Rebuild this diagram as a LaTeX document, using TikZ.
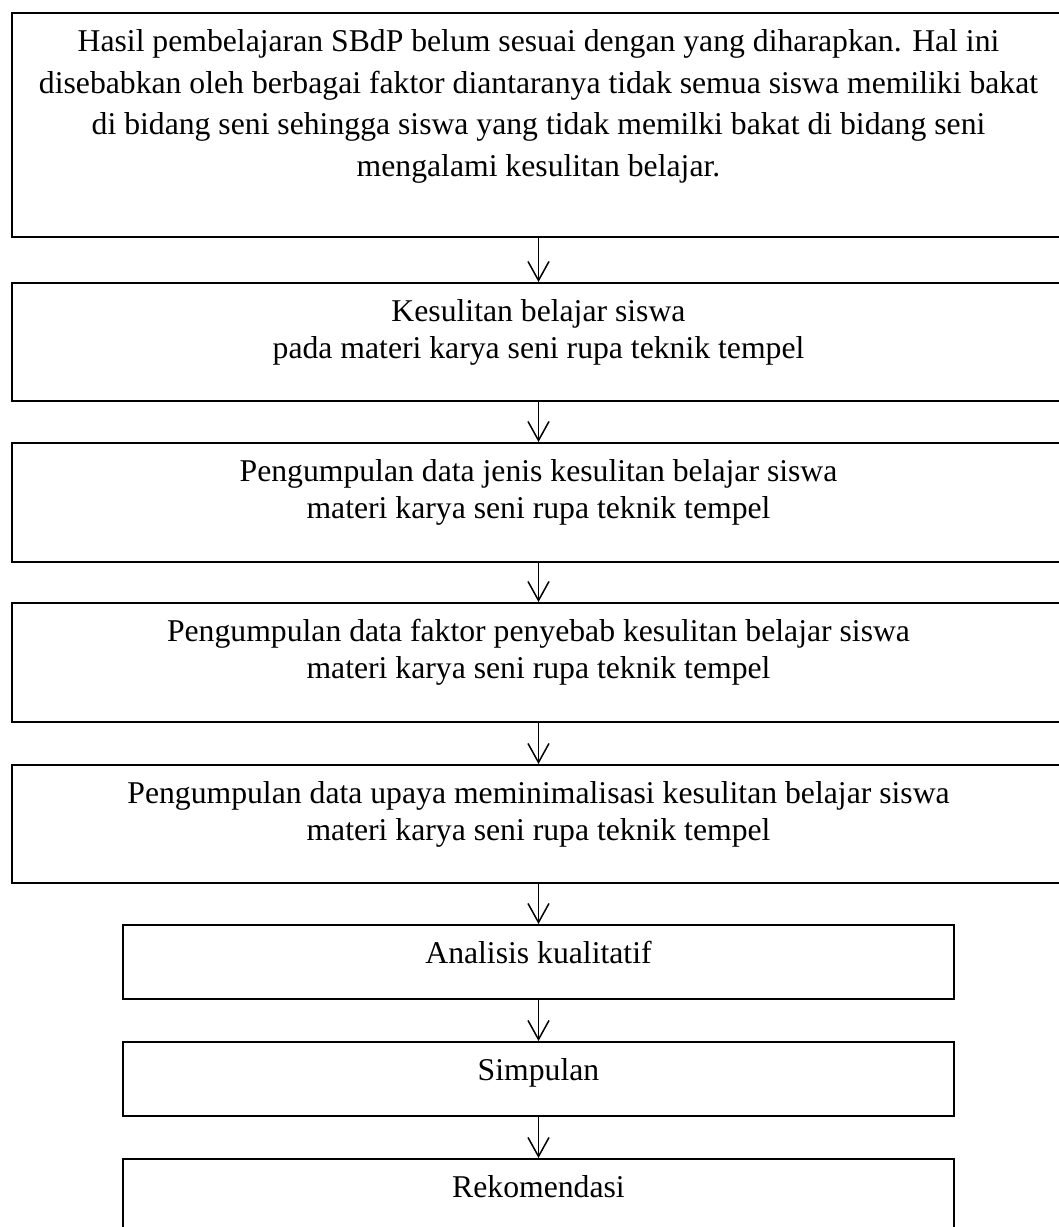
\documentclass[tikz,border=0pt]{standalone}
\usepackage{fontspec}
\setmainfont{Liberation Serif}
\usetikzlibrary{arrows.meta}
\newcommand{\firstline}{\rule{0pt}{39.5pt}}
\begin{document}
\begin{tikzpicture}[x=1pt,y=-1pt,
  box/.style={draw, line width=2pt, rectangle, inner sep=0pt},
  wide/.style={box, minimum width=1053pt},
  narrow/.style={box, minimum width=831pt},
  txt/.style={anchor=north, inner sep=0pt, align=center, font=\fontsize{31.7}{36.5}\selectfont},
  txtA/.style={txt, font=\fontsize{31.7}{41.5}\selectfont},
  arr/.style={line width=1.5pt, -{Straight Barb[length=19pt,width=21pt]}}]
\useasboundingbox (0,0) rectangle (1059,1227);
\clip (0,0) rectangle (1059,1227);

\node[wide, minimum height=224pt] (b1) at (538.5,125) {};
\node[wide, minimum height=118pt] (b2) at (538.5,342) {};
\node[wide, minimum height=119pt] (b3) at (538.5,502.5) {};
\node[wide, minimum height=119pt] (b4) at (538.5,662.5) {};
\node[wide, minimum height=118pt] (b5) at (538.5,824) {};
\node[narrow, minimum height=74pt] (b6) at (538.5,962) {};
\node[narrow, minimum height=74pt] (b7) at (538.5,1079) {};
\node[narrow, minimum height=76pt] (b8) at (538.5,1197) {};

\node[txtA] (t1) at (b1.north) {\firstline Hasil pembelajaran SBdP belum sesuai dengan yang diharapkan. Hal ini\\
disebabkan oleh berbagai faktor diantaranya tidak semua siswa memiliki bakat\\
di bidang seni sehingga siswa yang tidak memilki bakat di bidang seni\\
mengalami kesulitan belajar.};
\node[txt] (t2) at (b2.north) {\firstline Kesulitan belajar siswa\\pada materi karya seni rupa teknik tempel};
\node[txt] (t3) at (b3.north) {\firstline Pengumpulan data jenis kesulitan belajar siswa\\materi karya seni rupa teknik tempel};
\node[txt] (t4) at (b4.north) {\firstline Pengumpulan data faktor penyebab kesulitan belajar siswa\\materi karya seni rupa teknik tempel};
\node[txt] (t5) at (b5.north) {\firstline Pengumpulan data upaya meminimalisasi kesulitan belajar siswa\\materi karya seni rupa teknik tempel};
\node[txt] (t6) at (b6.north) {\firstline Analisis kualitatif};
\node[txt] (t7) at (b7.north) {\firstline Simpulan};
\node[txt] (t8) at (b8.north) {\firstline Rekomendasi};

\draw[arr] (b1.south) -- (b2.north);
\draw[arr] (b2.south) -- (b3.north);
\draw[arr] (b3.south) -- (b4.north);
\draw[arr] (b4.south) -- (b5.north);
\draw[arr] (b5.south) -- (b6.north);
\draw[arr] (b6.south) -- (b7.north);
\draw[arr] (b7.south) -- (b8.north);
\end{tikzpicture}
\end{document}
